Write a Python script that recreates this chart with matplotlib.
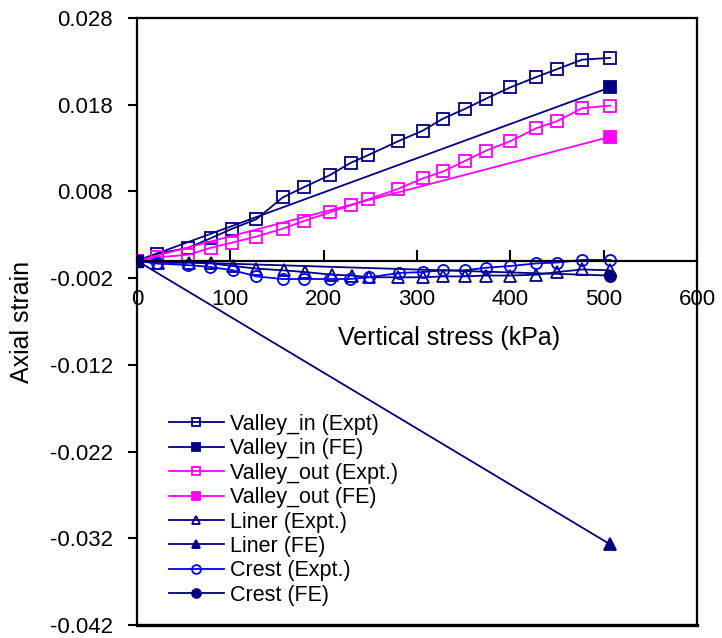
import matplotlib
matplotlib.use("Agg")
import matplotlib.pyplot as plt

plt.rcParams['font.family'] = ['Liberation Sans', 'DejaVu Sans']

# ---- data ----
vin_x = [0, 21, 55, 79, 102, 128, 156, 179, 207, 229, 248, 280, 306, 328, 351, 374, 400, 428, 450, 477, 507]
vin_y = [0, 0.0008, 0.0015, 0.0026, 0.0037, 0.0048, 0.0073, 0.0085, 0.0099, 0.0113, 0.0122, 0.0138, 0.0150,
         0.0164, 0.0175, 0.0187, 0.0200, 0.0212, 0.0221, 0.0232, 0.0234]
vin_fe_x = [0, 507]
vin_fe_y = [0, 0.0200]

vout_x = [0, 21, 55, 79, 102, 128, 156, 179, 207, 229, 248, 280, 306, 328, 351, 374, 400, 428, 450, 477, 507]
vout_y = [0, 0.0004, 0.0007, 0.0015, 0.0021, 0.0028, 0.0037, 0.0046, 0.0056, 0.0064, 0.0071, 0.0083, 0.0095,
          0.0103, 0.0115, 0.0127, 0.0138, 0.0153, 0.0161, 0.0176, 0.0179]
vout_fe_x = [0, 507]
vout_fe_y = [0, 0.0143]

liner_x = [0, 23, 56, 79, 103, 128, 157, 180, 209, 230, 249, 280, 306, 328, 351, 374, 400, 428, 450, 477, 507]
liner_y = [0, -0.0003, -0.0002, -0.0003, -0.0006, -0.0009, -0.0011, -0.0013, -0.0016, -0.0017, -0.0019, -0.0019,
           -0.0019, -0.0018, -0.0018, -0.0017, -0.0017, -0.0016, -0.0013, -0.0010, -0.0011]
liner_fe_x = [0, 507]
liner_fe_y = [0, -0.0327]

crest_x = [0, 21, 55, 78, 103, 128, 156, 179, 207, 228, 249, 281, 306, 328, 351, 374, 400, 428, 450, 477, 507]
crest_y = [0, -0.0003, -0.0005, -0.0007, -0.0011, -0.0018, -0.0021, -0.0021, -0.0021, -0.0021, -0.0019, -0.0014,
           -0.0013, -0.0011, -0.0011, -0.0008, -0.0006, -0.0003, -0.0002, 0.0001, 0.0001]
crest_fe_x = [0, 507]
crest_fe_y = [0, -0.0017]

x_ticks = [0, 100, 200, 300, 400, 500, 600]
y_ticks = [-0.042, -0.032, -0.022, -0.012, -0.002, 0.008, 0.018, 0.028]
y_labels = ['-0.042', '-0.032', '-0.022', '-0.012', '-0.002', '0.008', '0.018', '0.028']

NAVY = '#000080'
MAG = '#FF00FF'
BLUE = '#0000FF'

fig = plt.figure(figsize=(7.22, 6.38), dpi=100)
ax = fig.add_axes([137/722, 1-625/638, (697-137)/722, (625-18)/638])

lw = 1.3
ms = 8
mew = 1.3
ax.plot(vin_x, vin_y, color=NAVY, lw=lw, marker='s', ms=ms, mfc='none', mew=mew, label='Valley_in (Expt)')
ax.plot(vin_fe_x, vin_fe_y, color=NAVY, lw=lw, marker='s', ms=ms, mfc=NAVY, mew=mew, markevery=[1], label='Valley_in (FE)')
ax.plot(vout_x, vout_y, color=MAG, lw=lw, marker='s', ms=ms, mfc='none', mew=mew, label='Valley_out (Expt.)')
ax.plot(vout_fe_x, vout_fe_y, color=MAG, lw=lw, marker='s', ms=ms, mfc=MAG, mew=mew, markevery=[1], label='Valley_out (FE)')
ax.plot(liner_x, liner_y, color=NAVY, lw=lw, marker='^', ms=ms, mfc='none', mew=mew, label='Liner (Expt.)')
ax.plot(liner_fe_x, liner_fe_y, color=NAVY, lw=lw, marker='^', ms=ms, mfc=NAVY, mew=mew, markevery=[1], label='Liner (FE)')
ax.plot(crest_x, crest_y, color=BLUE, lw=lw, marker='o', ms=ms, mfc='none', mew=mew, label='Crest (Expt.)')
ax.plot(crest_fe_x, crest_fe_y, color=NAVY, lw=lw, marker='o', ms=ms, mfc=NAVY, mew=mew, markevery=[1], label='Crest (FE)')
# origin marker
ax.plot([0], [0], marker='s', ms=ms, color=NAVY, mfc=NAVY, zorder=5)

ax.set_xlim(0, 600)
ax.set_ylim(-0.042, 0.028)

ax.spines['bottom'].set_position(('data', 0))
for s in ax.spines.values():
    s.set_linewidth(1.6)
ax.plot([0, 1], [0, 0], transform=ax.transAxes, color='black', lw=2.4, clip_on=False)

ax.set_xticks(x_ticks)
ax.set_xticklabels([str(v) for v in x_ticks])
ax.set_yticks(y_ticks)
ax.set_yticklabels(y_labels)
ax.tick_params(axis='x', direction='in', length=8, width=1.5, labelsize=16, pad=20)
ax.tick_params(axis='y', direction='out', length=6.5, width=1.5, labelsize=16, pad=11)

fig.text(22/722, 1-322/638, 'Axial strain', fontsize=18, rotation=90, ha='center', va='center')
fig.text(449/722, 1-338/638, 'Vertical stress (kPa)', fontsize=18, ha='center', va='center')

leg = ax.legend(loc='upper left', bbox_to_anchor=(158/722, 1-403/638), bbox_transform=fig.transFigure,
                frameon=False, fontsize=15.5, handlelength=2.55, handletextpad=0.28, labelspacing=0.16,
                borderpad=0, markerscale=0.8)

fig.savefig('out.png', dpi=100)
